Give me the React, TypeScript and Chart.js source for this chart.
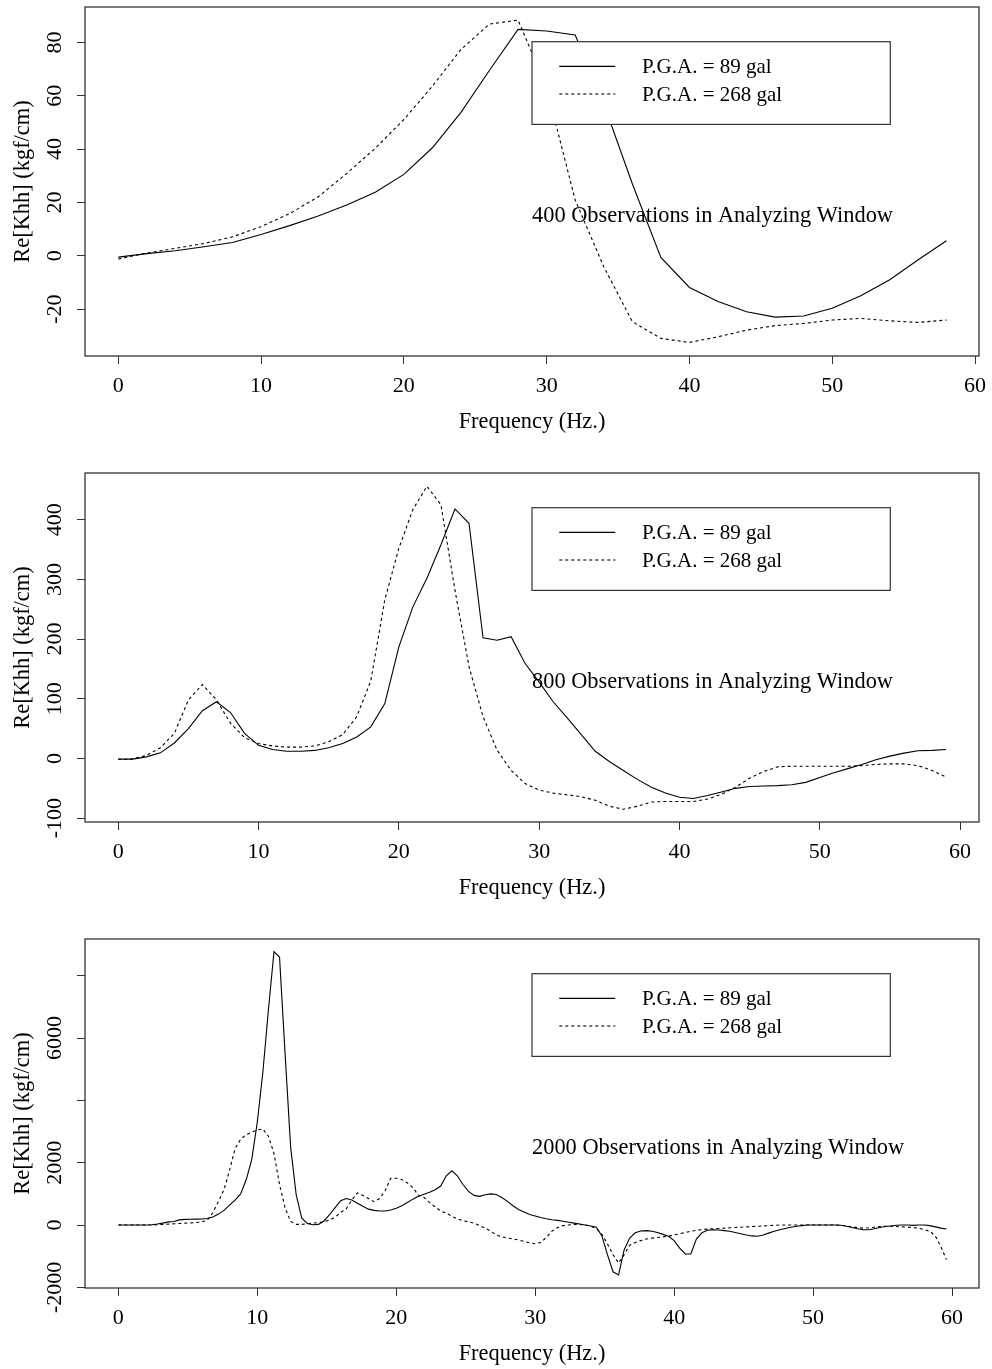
import React, { useEffect, useRef } from 'react';
import { Chart, registerables } from 'chart.js';

Chart.register(...registerables);

const FAMILY = "'Liberation Serif', 'Times New Roman', serif";

const seriesLabels = ['P.G.A. = 89 gal', 'P.G.A. = 268 gal'];
const xTickValues = [0, 10, 20, 30, 40, 50, 60];
const xTitle = 'Frequency (Hz.)';
const yTitle = 'Re[Khh] (kgf/cm)';

// ---- Panel 1: 400 observations ----
const freq400 = [0, 2, 4, 6, 8, 10, 12, 14, 16, 18, 20, 22, 24, 26, 28, 30, 32, 34, 36, 38, 40, 42, 44, 46, 48, 50, 52, 54, 56, 58];
const pga89_400 = [-0.5, 0.8, 1.9, 3.4, 5.0, 8.0, 11.3, 14.9, 19.0, 23.8, 30.5, 40.5, 53.8, 69.6, 84.9, 84.3, 82.8, 57, 27, -0.6, -11.9, -17.2, -21, -23, -22.6, -19.7, -15, -9.1, -1.6, 5.6];
const pga268_400 = [-1.2, 1.0, 2.8, 4.6, 7.1, 10.9, 15.8, 22.1, 30.9, 40.3, 51.1, 63.6, 77.4, 86.9, 88.4, 63, 20.9, -4.1, -24.7, -31, -32.5, -30.4, -27.9, -26.2, -25.4, -24.1, -23.5, -24.4, -25, -24.1];
const yTicks400 = [-20, 0, 20, 40, 60, 80];
const yTickLabels400 = ['-20', '0', '20', '40', '60', '80'];

// ---- Panel 2: 800 observations ----
const freq800 = [0, 1, 2, 3, 4, 5, 6, 7, 8, 9, 10, 11, 12, 13, 14, 15, 16, 17, 18, 19, 20, 21, 22, 23, 24, 25, 26, 27, 28, 29, 30, 31, 32, 33, 34, 35, 36, 37, 38, 39, 40, 41, 42, 43, 44, 45, 46, 47, 48, 49, 50, 51, 52, 53, 54, 55, 56, 57, 58, 59];
const pga89_800 = [
  -1, -1, 2.7, 9.4, 26, 50, 80, 95, 77, 42,
  22, 15, 12, 12, 13.5, 18, 25, 36, 53, 92,
  187, 254, 302, 358, 418, 394, 202, 198, 204, 159,
  128, 95, 68, 40, 12, -5, -20, -35, -48, -58,
  -65, -67, -62, -56, -50, -47, -46, -45.5, -44, -40,
  -32, -24, -17, -10, -2, 4, 9, 13, 13.5, 15,
];
const pga268_800 = [
  -1.5, -1, 5, 18, 42, 98, 124, 98, 59, 35,
  25, 21, 19, 19, 21, 28, 40, 70, 130, 266,
  352, 417, 456, 425, 282, 154, 70, 14, -20, -42,
  -53, -58, -61, -64, -70, -80, -85, -80, -73, -72,
  -72, -72, -68, -60, -48, -33, -22, -14, -13, -13,
  -13, -13, -13, -12, -10, -9, -9, -12, -20, -31,
];
const yTicks800 = [-100, 0, 100, 200, 300, 400];
const yTickLabels800 = ['-100', '0', '100', '200', '300', '400'];

// ---- Panel 3: 2000 observations ----
const freq2000 = [
  0, 0.4, 0.8, 1.2, 1.6, 2, 2.4, 2.8, 3.2, 3.6,
  4, 4.4, 4.8, 5.2, 5.6, 6, 6.4, 6.8, 7.2, 7.6,
  8, 8.4, 8.8, 9.2, 9.6, 10, 10.4, 10.8, 11.2, 11.6,
  12, 12.4, 12.8, 13.2, 13.6, 14, 14.4, 14.8, 15.2, 15.6,
  16, 16.4, 16.8, 17.2, 17.6, 18, 18.4, 18.8, 19.2, 19.6,
  20, 20.4, 20.8, 21.2, 21.6, 22, 22.4, 22.8, 23.2, 23.6,
  24, 24.4, 24.8, 25.2, 25.6, 26, 26.4, 26.8, 27.2, 27.6,
  28, 28.4, 28.8, 29.2, 29.6, 30, 30.4, 30.8, 31.2, 31.6,
  32, 32.4, 32.8, 33.2, 33.6, 34, 34.4, 34.8, 35.2, 35.6,
  36, 36.4, 36.8, 37.2, 37.6, 38, 38.4, 38.8, 39.2, 39.6,
  40, 40.4, 40.8, 41.2, 41.6, 42, 42.4, 42.8, 43.2, 43.6,
  44, 44.4, 44.8, 45.2, 45.6, 46, 46.4, 46.8, 47.2, 47.6,
  48, 48.4, 48.8, 49.2, 49.6, 50, 50.4, 50.8, 51.2, 51.6,
  52, 52.4, 52.8, 53.2, 53.6, 54, 54.4, 54.8, 55.2, 55.6,
  56, 56.4, 56.8, 57.2, 57.6, 58, 58.4, 58.8, 59.2, 59.6,
];
const pga89_2000 = [
  0, 0, 0, 0, 0, 0, 10, 30, 60, 100,
  115, 165, 180, 185, 190, 195, 210, 260, 350, 470,
  640, 800, 1000, 1450, 2100, 3300, 4900, 6900, 8770, 8600,
  5500, 2500, 970, 220, 50, 10, 20, 130, 330, 560,
  780, 850, 800, 700, 600, 510, 470, 450, 450, 480,
  540, 620, 720, 830, 920, 990, 1050, 1130, 1250, 1580,
  1740, 1580, 1300, 1080, 950, 920, 970, 1000, 980, 880,
  760, 620, 500, 420, 340, 290, 240, 200, 170, 150,
  120, 90, 60, 30, 0, -30, -70, -350, -950, -1500,
  -1600, -800, -420, -250, -190, -180, -200, -240, -300, -360,
  -500, -740, -930, -930, -450, -250, -170, -150, -160, -180,
  -200, -240, -280, -320, -350, -360, -320, -260, -200, -150,
  -110, -70, -40, -20, 0, 0, 0, 0, 0, 0,
  -10, -40, -80, -120, -150, -150, -120, -80, -50, -30,
  -10, 0, 0, -10, 0, 0, -20, -60, -100, -130,
];
const pga268_2000 = [
  0, 0, 0, 0, 0, 0, 0, 10, 20, 30,
  40, 50, 60, 70, 80, 100, 150, 400, 750, 1130,
  1750, 2450, 2750, 2900, 2980, 3050, 3080, 2850, 2300, 1300,
  550, 115, 20, 20, 40, 60, 80, 100, 160, 250,
  400, 520, 800, 1030, 950, 850, 750, 850, 1100, 1500,
  1500, 1460, 1350, 1200, 950, 880, 720, 580, 450, 380,
  280, 200, 140, 100, 60, -20, -100, -200, -320, -380,
  -420, -450, -480, -530, -570, -600, -560, -400, -200, -80,
  -20, 0, 20, 20, 0, -40, -120, -300, -600, -950,
  -1220, -950, -650, -560, -500, -450, -420, -400, -380, -360,
  -320, -280, -240, -200, -170, -150, -130, -120, -110, -100,
  -90, -80, -70, -60, -50, -40, -30, -20, -10, 0,
  0, 0, 0, 0, 0, 0, 0, 0, 0, 0,
  -10, -30, -60, -80, -100, -90, -70, -50, -40, -40,
  -50, -60, -70, -80, -100, -150, -200, -350, -700, -1110,
];
const yTicks2000 = [-2000, 0, 2000, 4000, 6000, 8000];
const yTickLabels2000 = ['-2000', '0', '2000', '', '6000', ''];

const notes = [
  '400 Observations in Analyzing Window',
  '800 Observations in Analyzing Window',
  '2000 Observations in Analyzing Window',
];

type Spec = {
  freq: number[];
  s1: number[];
  s2: number[];
  yTicks: number[];
  yLabels: string[];
  xMin: number;
  xMax: number;
  yMin: number;
  yMax: number;
  note: string;
};

const specs: Spec[] = [
  { freq: freq400, s1: pga89_400, s2: pga268_400, yTicks: yTicks400, yLabels: yTickLabels400, xMin: -2.33, xMax: 60.28, yMin: -37.6, yMax: 93.3, note: notes[0] },
  { freq: freq800, s1: pga89_800, s2: pga268_800, yTicks: yTicks800, yLabels: yTickLabels800, xMin: -2.37, xMax: 61.35, yMin: -106.4, yMax: 478.2, note: notes[1] },
  { freq: freq2000, s1: pga89_2000, s2: pga268_2000, yTicks: yTicks2000, yLabels: yTickLabels2000, xMin: -2.4, xMax: 61.94, yMin: -2021, yMax: 9177, note: notes[2] },
];

const CANVAS_W = 992;
const CANVAS_H = 437;
const TICK_LEN = 8;
const TICK_FONT = 22;
const TITLE_FONT = 22.4;
const LEGEND_FONT = 21;

function widestLabel(labels: string[]): number {
  const ctx = document.createElement('canvas').getContext('2d')!;
  ctx.font = `${TICK_FONT}px ${FAMILY}`;
  return Math.max(...labels.map((l) => ctx.measureText(l).width));
}

function decorPlugin(note: string) {
  return {
    id: 'rDecor',
    afterDatasetsDraw(chart: any) {
      const { ctx, chartArea: a } = chart;
      const w = a.right - a.left;
      ctx.save();
      // plot box
      ctx.strokeStyle = '#333';
      ctx.lineWidth = 1.3;
      ctx.strokeRect(a.left, a.top, w, a.bottom - a.top);
      // annotation
      ctx.fillStyle = '#000';
      ctx.font = `${TITLE_FONT}px ${FAMILY}`;
      ctx.textAlign = 'left';
      ctx.textBaseline = 'middle';
      ctx.fillText(note, a.left + 0.5 * w, a.top + 209.5);
      // legend
      const lx = a.left + 0.5 * w;
      const ly = a.top + 34.7;
      const lw = 358.3;
      const lh = 82.7;
      ctx.fillStyle = '#fff';
      ctx.fillRect(lx, ly, lw, lh);
      ctx.strokeStyle = '#333';
      ctx.lineWidth = 1.2;
      ctx.strokeRect(lx, ly, lw, lh);
      chart.data.datasets.forEach((ds: any, i: number) => {
        const ry = ly + 24.7 + i * 27.6;
        ctx.beginPath();
        ctx.setLineDash(ds.borderDash || []);
        ctx.strokeStyle = '#000';
        ctx.lineWidth = 1.1;
        ctx.moveTo(lx + 27.3, ry);
        ctx.lineTo(lx + 83.3, ry);
        ctx.stroke();
        ctx.setLineDash([]);
        ctx.fillStyle = '#000';
        ctx.font = `${LEGEND_FONT}px ${FAMILY}`;
        ctx.textAlign = 'left';
        ctx.textBaseline = 'middle';
        ctx.fillText(ds.label, lx + 110, ry + 1.3);
      });
      ctx.restore();
    },
  };
}

function makeConfig(spec: Spec): any {
  const tickFont = { family: FAMILY, size: TICK_FONT, lineHeight: 1.2 };
  const titleFont = { family: FAMILY, size: TITLE_FONT, lineHeight: 1.2 };
  const widest = widestLabel(spec.yLabels);
  const yPad = 85 - TICK_LEN - 55 - widest / 2;
  return {
    type: 'line',
    data: {
      datasets: [
        {
          label: seriesLabels[0],
          data: spec.freq.map((f, i) => ({ x: f, y: spec.s1[i] })),
          borderColor: '#000',
          borderWidth: 1.1,
          pointRadius: 0,
          fill: false,
          tension: 0,
        },
        {
          label: seriesLabels[1],
          data: spec.freq.map((f, i) => ({ x: f, y: spec.s2[i] })),
          borderColor: '#000',
          borderWidth: 1.1,
          borderDash: [3, 3],
          pointRadius: 0,
          fill: false,
          tension: 0,
        },
      ],
    },
    options: {
      animation: false,
      responsive: false,
      maintainAspectRatio: false,
      layout: { padding: { top: 7, right: 13, bottom: 0, left: 0 } },
      plugins: { legend: { display: false }, tooltip: { enabled: false } },
      scales: {
        x: {
          type: 'linear',
          min: spec.xMin,
          max: spec.xMax,
          afterBuildTicks: (s: any) => {
            s.ticks = xTickValues.map((v) => ({ value: v }));
          },
          afterFit: (s: any) => {
            s.height = 81;
            s.paddingLeft = 0;
            s.paddingRight = 0;
            s.paddingTop = 0;
            s.paddingBottom = 0;
          },
          grid: { drawOnChartArea: false, drawTicks: true, tickLength: TICK_LEN, color: '#333', tickColor: '#333', lineWidth: 1 },
          border: { display: false },
          ticks: {
            font: tickFont,
            color: '#000',
            padding: 9.3,
            autoSkip: false,
            maxRotation: 0,
            minRotation: 0,
            callback: (v: number) => String(v),
          },
          title: { display: true, text: xTitle, font: titleFont, color: '#000', padding: { top: 0, bottom: 1.5 } },
        },
        y: {
          type: 'linear',
          min: spec.yMin,
          max: spec.yMax,
          afterBuildTicks: (s: any) => {
            s.ticks = spec.yTicks.map((v) => ({ value: v }));
          },
          afterFit: (s: any) => {
            s.width = 85;
            s.paddingLeft = 0;
            s.paddingRight = 0;
            s.paddingTop = 0;
            s.paddingBottom = 0;
          },
          grid: { drawOnChartArea: false, drawTicks: true, tickLength: TICK_LEN, color: '#333', tickColor: '#333', lineWidth: 1 },
          border: { display: false },
          ticks: {
            font: tickFont,
            color: '#000',
            padding: yPad,
            autoSkip: false,
            minRotation: 90,
            maxRotation: 90,
            crossAlign: 'center',
            callback: (v: number) => {
              const idx = spec.yTicks.indexOf(v);
              return idx >= 0 ? spec.yLabels[idx] : '';
            },
          },
          title: { display: true, text: yTitle, font: titleFont, color: '#000', padding: { top: 9.5, bottom: 0 } },
        },
      },
    },
    plugins: [decorPlugin(spec.note)],
  };
}

function Panel({ spec, top }: { spec: Spec; top: number }) {
  const ref = useRef<HTMLCanvasElement>(null);
  useEffect(() => {
    if (!ref.current) return;
    const chart = new Chart(ref.current, makeConfig(spec));
    return () => chart.destroy();
  }, [spec]);
  return (
    <canvas
      ref={ref}
      width={CANVAS_W}
      height={CANVAS_H}
      style={{ position: 'absolute', left: 0, top, width: CANVAS_W, height: CANVAS_H, display: 'block' }}
    />
  );
}

const panelTops = [0, 466, 932];

export default function App() {
  return (
    <div style={{ position: 'absolute', left: 0, top: 0, width: 992, height: 1369, background: '#fff', overflow: 'hidden' }}>
      {specs.map((s, i) => (
        <Panel key={i} spec={s} top={panelTops[i]} />
      ))}
    </div>
  );
}
